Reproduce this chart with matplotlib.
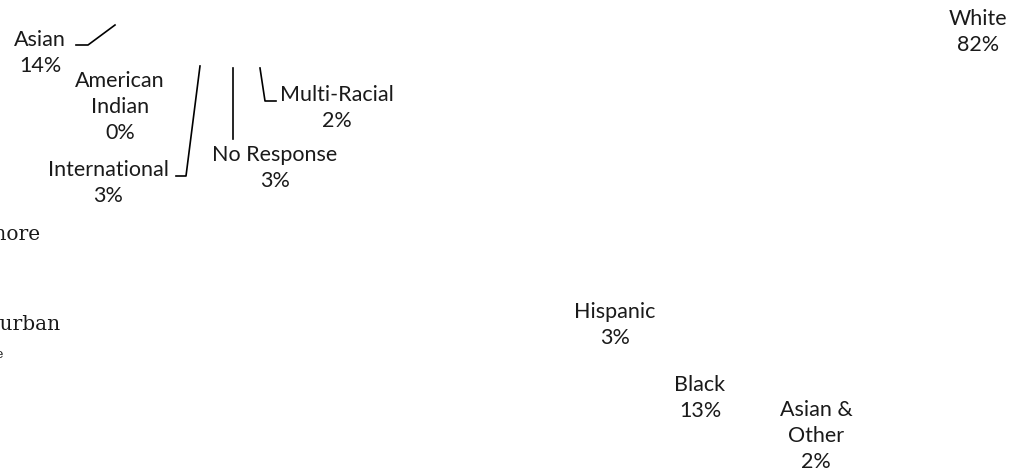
import matplotlib
matplotlib.use('Agg')
import matplotlib.pyplot as plt

# pie slice labels (the pies themselves are not visible in the picture)
names = ['Asian', 'American\nIndian', 'International', 'No Response', 'Multi-Racial',
         'White', 'Hispanic', 'Black', 'Asian &\nOther']
percents = [14, 0, 3, 3, 2, 82, 3, 13, 2]
# label centres in pixels
label_x = [40, 120, 108, 275, 337, 978, 615, 700, 816]
label_y = [53, 107, 183, 168, 108, 32, 325, 398, 436]

# leader lines, pixel coordinates
leaders = [
    ([76, 88, 115], [45, 45, 25]),
    ([176, 186, 200], [176, 176, 66]),
    ([233, 233], [68, 139]),
    ([260, 265, 276], [68, 101, 101]),
]

# clipped fragments of a second chart at the left edge
frag_text = ['Baltimore', 'Suburban', 'e']
frag_x = [41, 60, 3]
frag_y = [234, 325, 355]
frag_size = [14.5, 14.5, 9]

fig = plt.figure(figsize=(10.24, 4.75), dpi=100)
ax = fig.add_axes([0, 0, 1, 1])
ax.set_xlim(0, 1024)
ax.set_ylim(475, 0)
ax.axis('off')

for xs, ys in leaders:
    ax.plot(xs, ys, color='black', lw=1.2)

for n, p, x, y in zip(names, percents, label_x, label_y):
    ax.text(x, y, '%s\n%d%%' % (n, p), ha='center', va='center',
            fontsize=15.5, family='Lato', linespacing=1.36, color='#1a1a1a')

for t, x, y, s in zip(frag_text, frag_x, frag_y, frag_size):
    ax.text(x, y, t, ha='right', va='center', fontsize=s,
            family='DejaVu Serif', color='#1a1a1a')

plt.savefig('out.png', dpi=100)
